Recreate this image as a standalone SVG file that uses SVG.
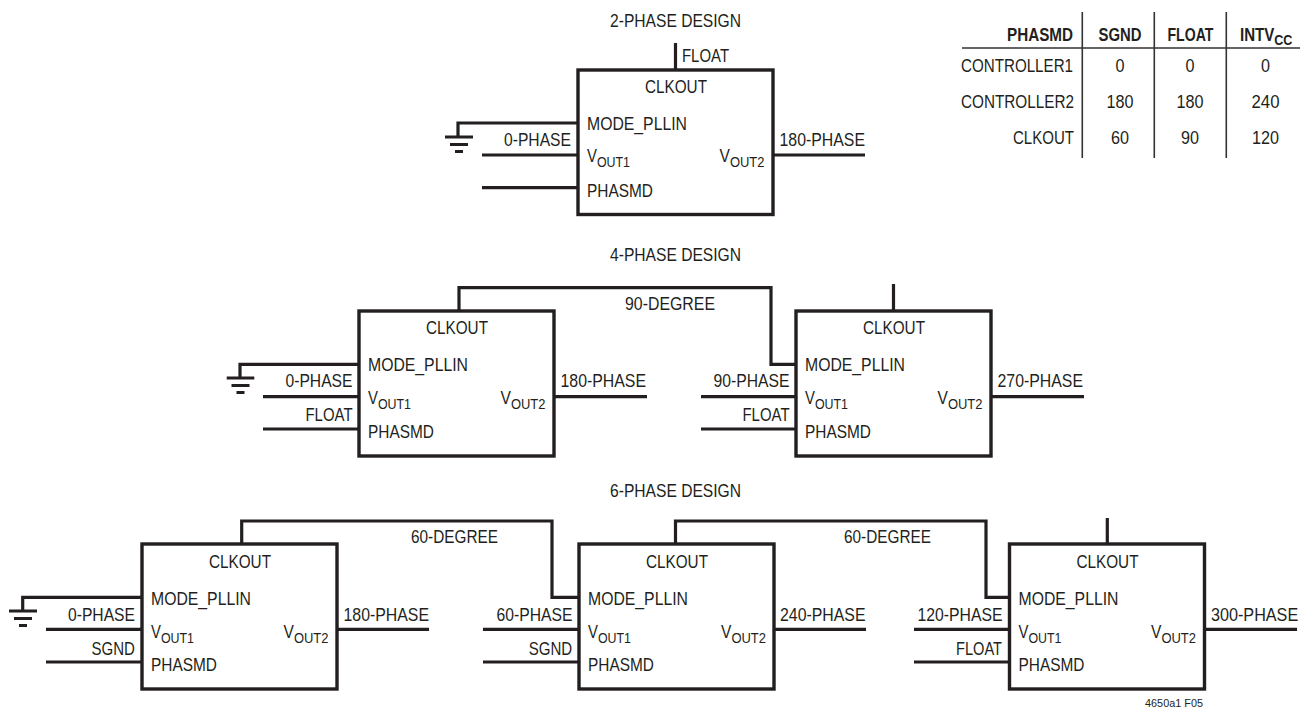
<svg xmlns="http://www.w3.org/2000/svg" width="1304" height="709" viewBox="0 0 1304 709">
<style>
text{font-family:"Liberation Sans",Arial,sans-serif;font-size:18.600px;fill:#231f20}
text.b{font-weight:700}
text.s{font-size:11px}
tspan.u{font-size:15.500px}
.box{fill:#fff;stroke:#231f20;stroke-width:3.400}
.w{fill:none;stroke:#231f20;stroke-width:3.200}
.t{fill:none;stroke:#333;stroke-width:1.600}
</style>
<g id="connectors">
<path class="w" d="M578 123H458V137M445 137H473M450 144.500H468M455 151.500H463"/>
<path class="w" d="M482 155H578M482 187.700H578M773 155H865M675.500 43V70"/>
<path class="w" d="M359 364.300H240V378M226.700 378H254.300M231.500 385.500H249.500M236.500 392.500H244.500"/>
<path class="w" d="M263 396.700H359M263 429H359M554 396.700H647"/>
<path class="w" d="M459 311V287.700H771V364.300H796"/>
<path class="w" d="M701 396.700H796M701 429H796M991 396.700H1084M893.500 284V311"/>
<path class="w" d="M142 597.300H22.700V611M9 611H37M14 618.500H32M19 625.500H27"/>
<path class="w" d="M46 629.300H142M46 662H142M337 629.300H429"/>
<path class="w" d="M241.700 544V521H552V597.300H579"/>
<path class="w" d="M483 629.300H579M483 662H579M774 629.300H866"/>
<path class="w" d="M675.500 544V521H986V597.300H1009.500"/>
<path class="w" d="M914 629.300H1009.500M914 662H1009.500M1205 629.300H1297M1107.300 518V544"/>
</g>
<g id="titles">
<text x="610" y="27" textLength="131" lengthAdjust="spacingAndGlyphs">2-PHASE DESIGN</text>
<text x="610" y="261" textLength="131" lengthAdjust="spacingAndGlyphs">4-PHASE DESIGN</text>
<text x="610" y="497" textLength="131" lengthAdjust="spacingAndGlyphs">6-PHASE DESIGN</text>
<text class="s" x="1145" y="707" textLength="58" lengthAdjust="spacingAndGlyphs">4650a1 F05</text>
</g>
<g id="node-2phase">
<rect class="box" x="578" y="70" width="195" height="144.500"/>
<text x="645" y="93" textLength="62" lengthAdjust="spacingAndGlyphs">CLKOUT</text>
<text x="587" y="130" textLength="100" lengthAdjust="spacingAndGlyphs">MODE_PLLIN</text>
<text x="587" y="162" textLength="43" lengthAdjust="spacingAndGlyphs">V<tspan class="u" dy="4.500">OUT1</tspan></text>
<text x="719.500" y="162" textLength="45" lengthAdjust="spacingAndGlyphs">V<tspan class="u" dy="4.500">OUT2</tspan></text>
<text x="587" y="197" textLength="66" lengthAdjust="spacingAndGlyphs">PHASMD</text>
<text x="504" y="146" textLength="67" lengthAdjust="spacingAndGlyphs">0-PHASE</text>
<text x="779.500" y="146" textLength="85.500" lengthAdjust="spacingAndGlyphs">180-PHASE</text>
<text x="682" y="62" textLength="47" lengthAdjust="spacingAndGlyphs">FLOAT</text>
</g>
<g id="node-4phase-1">
<rect class="box" x="359" y="311" width="195" height="145"/>
<text x="426" y="334" textLength="62" lengthAdjust="spacingAndGlyphs">CLKOUT</text>
<text x="368" y="371" textLength="100" lengthAdjust="spacingAndGlyphs">MODE_PLLIN</text>
<text x="368" y="404" textLength="43" lengthAdjust="spacingAndGlyphs">V<tspan class="u" dy="4.500">OUT1</tspan></text>
<text x="500.500" y="404" textLength="45" lengthAdjust="spacingAndGlyphs">V<tspan class="u" dy="4.500">OUT2</tspan></text>
<text x="368" y="438" textLength="66" lengthAdjust="spacingAndGlyphs">PHASMD</text>
<text x="285.500" y="387" textLength="67" lengthAdjust="spacingAndGlyphs">0-PHASE</text>
<text x="305.500" y="421" textLength="47" lengthAdjust="spacingAndGlyphs">FLOAT</text>
<text x="560.500" y="387" textLength="85.500" lengthAdjust="spacingAndGlyphs">180-PHASE</text>
<text x="625" y="310" textLength="90" lengthAdjust="spacingAndGlyphs">90-DEGREE</text>
</g>
<g id="node-4phase-2">
<rect class="box" x="796" y="311" width="195" height="145"/>
<text x="863" y="334" textLength="62" lengthAdjust="spacingAndGlyphs">CLKOUT</text>
<text x="805" y="371" textLength="100" lengthAdjust="spacingAndGlyphs">MODE_PLLIN</text>
<text x="805" y="404" textLength="43" lengthAdjust="spacingAndGlyphs">V<tspan class="u" dy="4.500">OUT1</tspan></text>
<text x="937.500" y="404" textLength="45" lengthAdjust="spacingAndGlyphs">V<tspan class="u" dy="4.500">OUT2</tspan></text>
<text x="805" y="438" textLength="66" lengthAdjust="spacingAndGlyphs">PHASMD</text>
<text x="713.500" y="387" textLength="76" lengthAdjust="spacingAndGlyphs">90-PHASE</text>
<text x="742.500" y="421" textLength="47" lengthAdjust="spacingAndGlyphs">FLOAT</text>
<text x="997.500" y="387" textLength="85.500" lengthAdjust="spacingAndGlyphs">270-PHASE</text>
</g>
<g id="node-6phase-1">
<rect class="box" x="142" y="544" width="195" height="145"/>
<text x="209" y="567.500" textLength="62" lengthAdjust="spacingAndGlyphs">CLKOUT</text>
<text x="151" y="605" textLength="100" lengthAdjust="spacingAndGlyphs">MODE_PLLIN</text>
<text x="151" y="638" textLength="43" lengthAdjust="spacingAndGlyphs">V<tspan class="u" dy="4.500">OUT1</tspan></text>
<text x="283.500" y="638" textLength="45" lengthAdjust="spacingAndGlyphs">V<tspan class="u" dy="4.500">OUT2</tspan></text>
<text x="151" y="671" textLength="66" lengthAdjust="spacingAndGlyphs">PHASMD</text>
<text x="68" y="621" textLength="67" lengthAdjust="spacingAndGlyphs">0-PHASE</text>
<text x="91.500" y="655" textLength="43.500" lengthAdjust="spacingAndGlyphs">SGND</text>
<text x="343.500" y="621" textLength="85.500" lengthAdjust="spacingAndGlyphs">180-PHASE</text>
<text x="411" y="543" textLength="87" lengthAdjust="spacingAndGlyphs">60-DEGREE</text>
</g>
<g id="node-6phase-2">
<rect class="box" x="579" y="544" width="195" height="145"/>
<text x="646" y="567.500" textLength="62" lengthAdjust="spacingAndGlyphs">CLKOUT</text>
<text x="588" y="605" textLength="100" lengthAdjust="spacingAndGlyphs">MODE_PLLIN</text>
<text x="588" y="638" textLength="43" lengthAdjust="spacingAndGlyphs">V<tspan class="u" dy="4.500">OUT1</tspan></text>
<text x="721" y="638" textLength="45" lengthAdjust="spacingAndGlyphs">V<tspan class="u" dy="4.500">OUT2</tspan></text>
<text x="588" y="671" textLength="66" lengthAdjust="spacingAndGlyphs">PHASMD</text>
<text x="496.500" y="621" textLength="76" lengthAdjust="spacingAndGlyphs">60-PHASE</text>
<text x="528.700" y="655" textLength="43.500" lengthAdjust="spacingAndGlyphs">SGND</text>
<text x="780" y="621" textLength="85.500" lengthAdjust="spacingAndGlyphs">240-PHASE</text>
<text x="844" y="543" textLength="87" lengthAdjust="spacingAndGlyphs">60-DEGREE</text>
</g>
<g id="node-6phase-3">
<rect class="box" x="1009.500" y="544" width="195" height="145"/>
<text x="1076.500" y="567.500" textLength="62" lengthAdjust="spacingAndGlyphs">CLKOUT</text>
<text x="1018.500" y="605" textLength="100" lengthAdjust="spacingAndGlyphs">MODE_PLLIN</text>
<text x="1018.500" y="638" textLength="43" lengthAdjust="spacingAndGlyphs">V<tspan class="u" dy="4.500">OUT1</tspan></text>
<text x="1151" y="638" textLength="45" lengthAdjust="spacingAndGlyphs">V<tspan class="u" dy="4.500">OUT2</tspan></text>
<text x="1018.500" y="671" textLength="66" lengthAdjust="spacingAndGlyphs">PHASMD</text>
<text x="917.500" y="621" textLength="85" lengthAdjust="spacingAndGlyphs">120-PHASE</text>
<text x="956" y="655" textLength="46" lengthAdjust="spacingAndGlyphs">FLOAT</text>
<text transform="translate(1211 621) scale(.87 1)">300-PHASE</text>
</g>
<g id="table">
<path class="t" d="M962 48H1300M1082.300 12V158M1154.300 12V158M1226.300 12V158"/>
<text class="b" x="1007" y="41" textLength="66" lengthAdjust="spacingAndGlyphs">PHASMD</text>
<text class="b" x="1098.500" y="41" textLength="43" lengthAdjust="spacingAndGlyphs">SGND</text>
<text class="b" x="1167.500" y="41" textLength="46" lengthAdjust="spacingAndGlyphs">FLOAT</text>
<text class="b" transform="translate(1240 41) scale(.81 1)">INTV<tspan class="u" dy="3.500">CC</tspan></text>
<text x="961" y="72" textLength="112" lengthAdjust="spacingAndGlyphs">CONTROLLER1</text>
<text x="961" y="108" textLength="113" lengthAdjust="spacingAndGlyphs">CONTROLLER2</text>
<text x="1013" y="144" textLength="61" lengthAdjust="spacingAndGlyphs">CLKOUT</text>
<text x="1115.500" y="72" textLength="9" lengthAdjust="spacingAndGlyphs">0</text>
<text x="1185.500" y="72" textLength="9" lengthAdjust="spacingAndGlyphs">0</text>
<text x="1261" y="72" textLength="9" lengthAdjust="spacingAndGlyphs">0</text>
<text x="1106.500" y="108" textLength="27" lengthAdjust="spacingAndGlyphs">180</text>
<text x="1176.500" y="108" textLength="27" lengthAdjust="spacingAndGlyphs">180</text>
<text x="1251.500" y="108" textLength="28" lengthAdjust="spacingAndGlyphs">240</text>
<text x="1111" y="144" textLength="18" lengthAdjust="spacingAndGlyphs">60</text>
<text x="1181" y="144" textLength="18" lengthAdjust="spacingAndGlyphs">90</text>
<text x="1252" y="144" textLength="27" lengthAdjust="spacingAndGlyphs">120</text>
</g>
</svg>
